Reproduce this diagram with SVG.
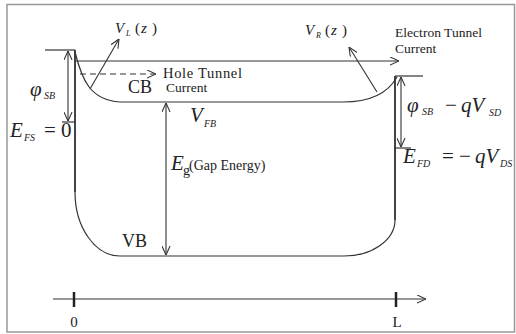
<svg xmlns="http://www.w3.org/2000/svg" width="516" height="334" viewBox="0 0 516 334">
<defs>
<marker id="arr" viewBox="0 0 10 10" refX="10" refY="5" markerWidth="9" markerHeight="9" markerUnits="userSpaceOnUse" orient="auto-start-reverse">
<path d="M0,0.5 L10,5 L0,9.5" fill="none" stroke="#333" stroke-width="1.2"/>
</marker>
</defs>
<style>
.ln{fill:none;stroke:#333;stroke-width:1.2}
.thick{fill:none;stroke:#444;stroke-width:2}
.ar{fill:none;stroke:#333;stroke-width:1.1;marker-end:url(#arr)}
.ar2{fill:none;stroke:#333;stroke-width:1.1;marker-end:url(#arr);marker-start:url(#arr)}
text{font-family:'Liberation Serif','Times New Roman','DejaVu Serif',serif;fill:#222}
.m{font-style:italic}
</style>
<rect x="0" y="0" width="516" height="334" fill="#fff"/>
<rect x="7" y="4.5" width="507.5" height="327.5" fill="none" stroke="#999" stroke-width="1.5"/>

<g id="source">
<line class="ln" x1="45" y1="50" x2="75" y2="50"/>
<path class="thick" d="M75,50 V192"/>
<path class="ln" d="M75,192 A45,64 0 0 0 120,256"/>
<line class="ln" x1="62" y1="122" x2="75" y2="122"/>
<line class="ar2" x1="68" y1="51" x2="68" y2="121"/>
<text class="m" x="30" y="96" font-size="21">φ</text>
<text class="m" x="44" y="99" font-size="10">SB</text>
<text class="m" x="10" y="137" font-size="21">E</text>
<text class="m" x="24" y="141" font-size="10">FS</text>
<text x="44" y="137" font-size="21">= 0</text>
</g>

<g id="drain">
<line class="ln" x1="395" y1="76" x2="423" y2="76"/>
<path class="thick" d="M395,76 V220"/>
<path class="ln" d="M395,220 A51,36 0 0 1 344,256"/>
<line class="ln" x1="395" y1="148" x2="411" y2="148"/>
<line class="ar2" x1="401" y1="77" x2="401" y2="147"/>
<text class="m" x="407" y="112" font-size="21">φ</text>
<text class="m" x="422" y="115" font-size="10">SB</text>
<text x="445" y="112" font-size="21">−</text>
<text class="m" x="461" y="112" font-size="21">qV</text>
<text class="m" x="489" y="116" font-size="10">SD</text>
<text class="m" x="403" y="163" font-size="21">E</text>
<text class="m" x="417" y="167" font-size="10">FD</text>
<text x="442" y="163" font-size="21">= −</text>
<text class="m" x="475" y="163" font-size="21">qV</text>
<text class="m" x="500" y="167" font-size="10">DS</text>
</g>

<g id="bands">
<path class="ln" d="M75,52 C82,80 90,100 120,102 H343 C372,102 388,93 397,77"/>
<line class="ln" x1="120" y1="256" x2="344" y2="256"/>
<text x="128" y="93" font-size="18">CB</text>
<text x="122" y="247" font-size="18">VB</text>
<line class="ar2" x1="166" y1="103" x2="166" y2="255"/>
<text class="m" x="190" y="122" font-size="21">V</text>
<text class="m" x="204" y="127" font-size="10">FB</text>
<text class="m" x="171" y="170" font-size="21">E</text>
<text x="183" y="175" font-size="14">g</text>
<text x="189" y="170" font-size="14">(Gap Energy)</text>
</g>

<g id="connectors">
<line class="ar" x1="80" y1="74" x2="156" y2="74" stroke-dasharray="6,4"/>
<line class="ar" x1="75" y1="61" x2="399" y2="61"/>
<line class="ar" x1="90" y1="89" x2="119" y2="39"/>
<line class="ar" x1="377" y1="92" x2="349" y2="47"/>
<text x="163" y="78" font-size="14.5" textLength="79">Hole Tunnel</text>
<text x="166" y="92" font-size="13.5">Current</text>
<text x="395" y="37" font-size="13.5" textLength="87">Electron Tunnel</text>
<text x="395" y="53" font-size="13.5">Current</text>
<text class="m" x="115" y="33" font-size="15">V</text>
<text class="m" x="126" y="36" font-size="8">L</text>
<text x="135" y="33" font-size="15">(</text>
<text class="m" x="141" y="33" font-size="15">z</text>
<text x="152" y="33" font-size="15">)</text>
<text class="m" x="305" y="35" font-size="15">V</text>
<text class="m" x="316" y="38" font-size="8">R</text>
<text x="325" y="35" font-size="15">(</text>
<text class="m" x="331" y="35" font-size="15">z</text>
<text x="342" y="35" font-size="15">)</text>
</g>

<g id="axis">
<line class="ar" x1="53" y1="299" x2="426" y2="299"/>
<line x1="74" y1="292" x2="74" y2="307" stroke="#222" stroke-width="2.5"/>
<line x1="396" y1="292" x2="396" y2="307" stroke="#222" stroke-width="2.5"/>
<text x="74" y="327" font-size="15" text-anchor="middle">0</text>
<text x="397" y="327" font-size="15" text-anchor="middle">L</text>
</g>
</svg>
